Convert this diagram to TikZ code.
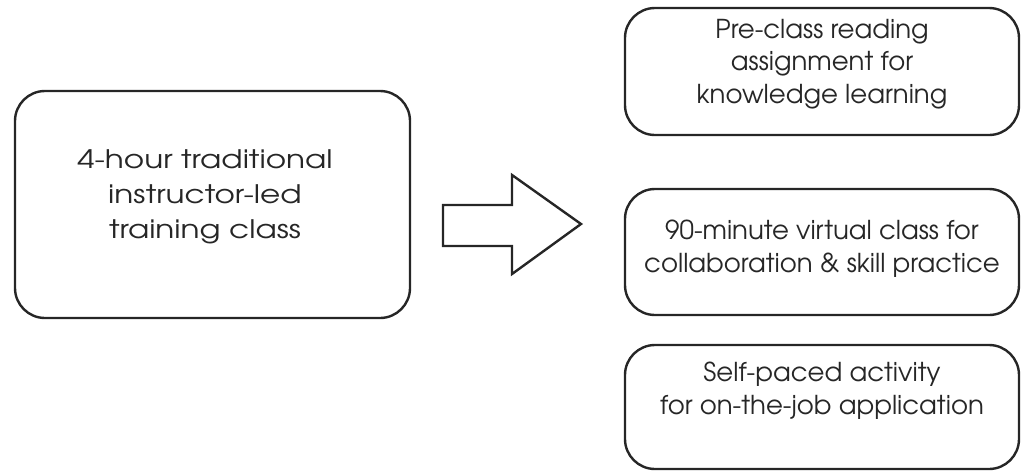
\documentclass[tikz,border=0pt]{standalone}
\usepackage{fontspec}
\setmainfont{texgyreadventor-regular.otf}
\newfontfamily\widefont{texgyreadventor-regular.otf}[FakeStretch=1.22]
\begin{document}
\begin{tikzpicture}[x=1pt,y=-1pt,
  box/.style={draw=black!85, rounded corners=30pt, line width=2.4pt, inner sep=0pt},
  rbox/.style={box, minimum width=394pt},
  txt/.style={align=center, inner sep=0pt, anchor=base, text=black!85},
  ltxt/.style={txt, font=\widefont\fontsize{25.5}{35}\selectfont},
  rtxt/.style={txt, font=\fontsize{26}{32.5}\selectfont}]
\useasboundingbox (0,0) rectangle (1028,472);
\node[box, minimum width=395pt, minimum height=227pt] (L) at (212.5,204.5) {};
\node[ltxt] (Lt) at (205,238) {4-hour traditional\\instructor-led\\training class};
\node[rbox, minimum height=127pt] (R1) at (822,71.5) {};
\node[rtxt] (R1t) at (822,103) {Pre-class reading\\assignment for\\knowledge learning};
\node[rbox, minimum height=126pt] (R2) at (822,252) {};
\node[rtxt] (R2t) at (822,272) {90-minute virtual class for\\collaboration \& skill practice};
\node[rbox, minimum height=124pt] (R3) at (822,407) {};
\node[rtxt] (R3t) at (822,414) {Self-paced activity\\for on-the-job application};
\draw[draw=black!85, line width=2.4pt, line join=miter]
  (443,205) -- (512,205) -- (512,175) -- (581,224) -- (512,274) -- (512,246) -- (443,246) -- cycle;
\end{tikzpicture}
\end{document}
